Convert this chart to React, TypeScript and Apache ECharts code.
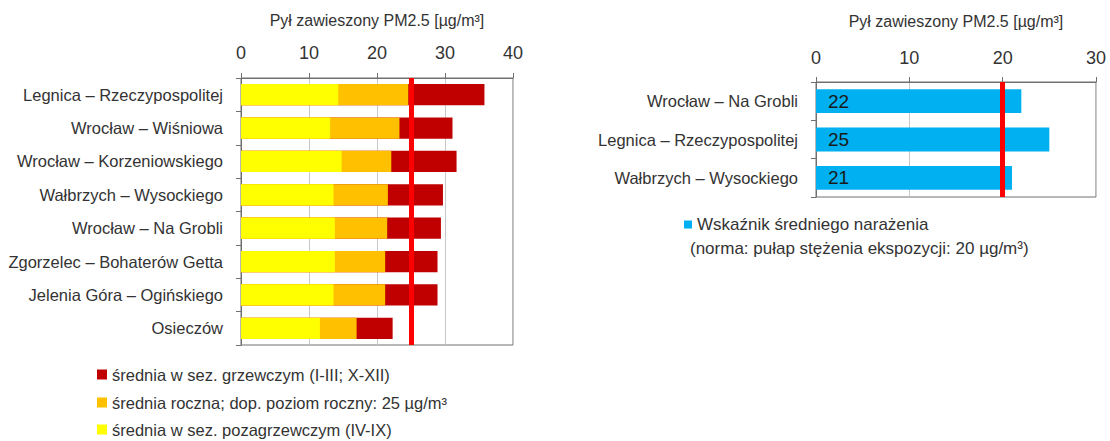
import React, { useEffect, useRef } from "react";
import * as echarts from "echarts";

const leftCategories = [
  "Legnica – Rzeczypospolitej",
  "Wrocław – Wiśniowa",
  "Wrocław – Korzeniowskiego",
  "Wałbrzych – Wysockiego",
  "Wrocław – Na Grobli",
  "Zgorzelec – Bohaterów Getta",
  "Jelenia Góra – Ogińskiego",
  "Osieczów",
];
const heatingSeason = [35.8, 31.1, 31.7, 29.7, 29.4, 28.9, 28.9, 22.3];
const annualMean = [24.6, 23.3, 22.1, 21.6, 21.5, 21.2, 21.2, 17.0];
const nonHeatingSeason = [14.3, 13.1, 14.8, 13.6, 13.8, 13.8, 13.6, 11.6];
const annualLimit = 25;

const rightCategories = [
  "Wrocław – Na Grobli",
  "Legnica – Rzeczypospolitej",
  "Wałbrzych – Wysockiego",
];
const exposureIndex = [22, 25, 21];
const exposureLimit = 20;

const axisTitle = "Pył zawieszony PM2.5 [µg/m³]";
const nameHeating = "średnia w sez. grzewczym (I-III; X-XII)";
const nameAnnual = "średnia roczna; dop. poziom roczny: 25 µg/m³";
const nameNonHeating = "średnia w sez. pozagrzewczym (IV-IX)";
const nameExposure = "Wskaźnik średniego narażenia";
const exposureNote = "(norma: pułap stężenia ekspozycji: 20 µg/m³)";

const FONT = "'Liberation Sans', Arial, sans-serif";
const TXT = "#333333";

export default function App() {
  const ref = useRef<HTMLDivElement>(null);
  useEffect(() => {
    document.body.style.margin = "0";
    if (!ref.current) return;
    const chart = echarts.init(ref.current, undefined, { renderer: "svg" });
    const xAxisCommon = (max: number, gridIndex: number, nameGap: number, labelMargin: number) => ({
      type: "value" as const,
      gridIndex,
      position: "top" as const,
      min: 0,
      max,
      interval: 10,
      name: axisTitle,
      nameLocation: "middle" as const,
      nameGap,
      nameMoveOverlap: false,
      nameTextStyle: { fontFamily: FONT, fontSize: 16, color: TXT },
      axisLine: { show: true, lineStyle: { color: "#707070", width: 1 } },
      axisTick: { show: true, inside: false, length: 5, lineStyle: { color: "#707070" } },
      axisLabel: { fontFamily: FONT, fontSize: 18, color: TXT, margin: labelMargin },
      splitLine: { show: true, lineStyle: { color: "#c8c8c8", width: 1 } },
    });
    const yAxisCommon = (data: string[], gridIndex: number) => ({
      type: "category" as const,
      gridIndex,
      data,
      inverse: true,
      axisLine: { show: true, lineStyle: { color: "#707070", width: 1 } },
      axisTick: { show: true, length: 5, lineStyle: { color: "#707070" } },
      axisLabel: { fontFamily: FONT, fontSize: 16.5, color: TXT, margin: 18 },
      splitLine: { show: false },
    });
    const markLine = (value: number) => ({
      silent: true,
      symbol: "none",
      label: { show: false },
      lineStyle: { color: "#ff0000", width: 5, type: "solid" as const },
      data: [{ xAxis: value }],
    });
    const leftLegend = (name: string, top: number) => ({
      orient: "vertical",
      left: 97,
      top,
      padding: 0,
      itemWidth: 10,
      itemHeight: 10,
      icon: "rect",
      selectedMode: false,
      textStyle: { fontFamily: FONT, fontSize: 16.5, color: TXT, padding: [0, 0, 0, 0] },
      data: [name],
    });
    chart.setOption({
      animation: false,
      textStyle: { fontFamily: FONT },
      grid: [
        {
          left: 241, width: 272, top: 78, height: 267,
          show: true, borderColor: "#707070", borderWidth: 1, backgroundColor: "transparent",
          containLabel: false, outerBoundsMode: "none",
        },
        {
          left: 816, width: 280, top: 82, height: 115,
          show: true, borderColor: "#707070", borderWidth: 1, backgroundColor: "transparent",
          containLabel: false, outerBoundsMode: "none",
        },
      ],
      xAxis: [xAxisCommon(40, 0, 50, 16), xAxisCommon(30, 1, 53, 15)],
      yAxis: [yAxisCommon(leftCategories, 0), yAxisCommon(rightCategories, 1)],
      legend: [
        leftLegend(nameHeating, 366),
        leftLegend(nameAnnual, 394),
        leftLegend(nameNonHeating, 421),
        {
          orient: "vertical",
          left: 684,
          top: 216,
          padding: 0,
          itemWidth: 8,
          itemHeight: 8,
          icon: "rect",
          selectedMode: false,
          textStyle: { fontFamily: FONT, fontSize: 17, color: TXT },
          data: [nameExposure],
        },
      ],
      graphic: [
        {
          type: "text",
          left: 690,
          top: 240,
          style: { text: exposureNote, fontFamily: FONT, fontSize: 17, fill: TXT },
        },
      ],
      series: [
        {
          name: nameHeating,
          type: "bar",
          xAxisIndex: 0,
          yAxisIndex: 0,
          data: heatingSeason,
          barWidth: "64%",
          barGap: "-100%",
          itemStyle: { color: "#c00000" },
          z: 2,
        },
        {
          name: nameAnnual,
          type: "bar",
          xAxisIndex: 0,
          yAxisIndex: 0,
          data: annualMean,
          barWidth: "64%",
          barGap: "-100%",
          itemStyle: { color: "#ffc000" },
          z: 3,
        },
        {
          name: nameNonHeating,
          type: "bar",
          xAxisIndex: 0,
          yAxisIndex: 0,
          data: nonHeatingSeason,
          barWidth: "64%",
          barGap: "-100%",
          itemStyle: { color: "#ffff00" },
          z: 4,
          markLine: markLine(annualLimit),
        },
        {
          name: nameExposure,
          type: "bar",
          xAxisIndex: 1,
          yAxisIndex: 1,
          data: exposureIndex,
          barWidth: "62%",
          itemStyle: { color: "#00b0f0" },
          label: {
            show: true,
            position: "insideLeft",
            distance: 12,
            fontFamily: FONT,
            fontSize: 19,
            color: "#1a1a1a",
          },
          markLine: markLine(exposureLimit),
        },
      ],
    });
    return () => chart.dispose();
  }, []);
  return <div ref={ref} style={{ width: 1110, height: 441 }} />;
}
